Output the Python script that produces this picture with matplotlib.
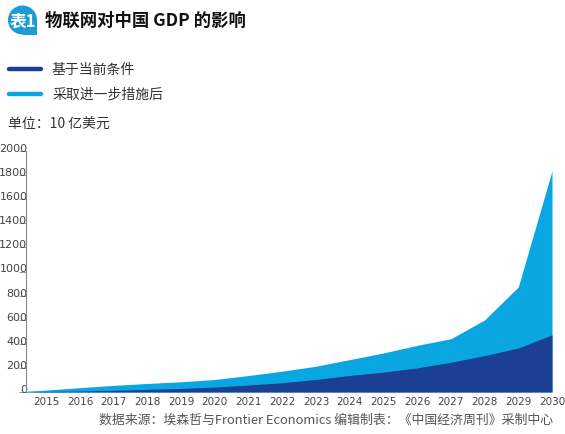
import matplotlib
matplotlib.use("Agg")
import matplotlib.pyplot as plt
from matplotlib.patches import Circle, Rectangle

# Data (10 亿美元)
years = [2014, 2015, 2016, 2017, 2018, 2019, 2020, 2021, 2022,
         2023, 2024, 2025, 2026, 2027, 2028, 2029, 2030]
current = [0, 5, 8, 14, 22, 30, 41, 58, 77,
           104, 137, 165, 200, 247, 302, 365, 475]
further = [0, 16, 36, 55, 71, 85, 104, 137, 173,
           214, 269, 324, 387, 442, 598, 872, 1835]
tick_years = list(range(2015, 2031))
y_ticks = list(range(0, 2001, 200))

series_names = ["基于当前条件", "采取进一步措施后"]
title = "物联网对中国 GDP 的影响"
unit = "单位：10 亿美元"
source = "数据来源：埃森哲与Frontier Economics 编辑制表：《中国经济周刊》采制中心"

dark_blue = "#1b3f93"
light_blue = "#0aa6e2"
badge_blue = "#1e9bd7"

cjk = ["Noto Sans CJK SC", "DejaVu Sans"]
narrow = ["Liberation Sans Narrow", "DejaVu Sans"]

W, H = 565, 435
fig = plt.figure(figsize=(W / 100, H / 100), dpi=100)

# main chart area
ax = fig.add_axes([26 / W, (H - 393) / H, 526 / W, (393 - 152) / H])
ax.fill_between(years, 0, further, color=light_blue, linewidth=0)
ax.fill_between(years, 0, current, color=dark_blue, linewidth=0)
ax.set_xlim(2014.4, 2030)
ax.set_ylim(0, 2000)

for side in ["top", "right", "bottom"]:
    ax.spines[side].set_visible(False)
ax.spines["left"].set_color("#8a8a8a")
ax.spines["left"].set_linewidth(0.8)

ax.set_yticks(y_ticks)
ax.set_yticklabels([str(v) for v in y_ticks], family=narrow, fontsize=8, color="#444444")
ax.tick_params(axis="y", direction="out", length=5, width=0.6, color="#8a8a8a", pad=-6)
for lab in ax.get_yticklabels():
    lab.set_va("baseline")

ax.set_xticks(tick_years)
ax.set_xticklabels([str(y) for y in tick_years], family=narrow, fontsize=7.5, color="#444444")
ax.tick_params(axis="x", length=0, pad=3)

# overlay in pixel coordinates for title, legend and notes
ov = fig.add_axes([0, 0, 1, 1], zorder=-1)
ov.set_xlim(0, W)
ov.set_ylim(H, 0)
ov.axis("off")

ov.add_patch(Circle((22.5, 21), 14.5, color=badge_blue, linewidth=0))
ov.add_patch(Rectangle((22.5, 21), 14.5, 14.5, color=badge_blue, linewidth=0))
ov.text(22.5, 21, "表1", family=cjk, fontsize=12, fontweight="bold", color="white",
        ha="center", va="center")
ov.text(45, 21, title, family=cjk, fontsize=12.5, fontweight="bold", color="#111111",
        ha="left", va="center")

for yy, col, name in [(70, dark_blue, series_names[0]), (95, light_blue, series_names[1])]:
    ov.plot([9, 41], [yy, yy], color=col, linewidth=3.2, solid_capstyle="round")
    ov.text(52, yy, name, family=cjk, fontsize=10, color="#333333", ha="left", va="center")

ov.text(8, 125, unit, family=cjk, fontsize=10, color="#333333", ha="left", va="center")
ov.text(553, 420, source, family=cjk, fontsize=9.3, color="#555555", ha="right", va="center")

fig.savefig("out.png", dpi=100)
